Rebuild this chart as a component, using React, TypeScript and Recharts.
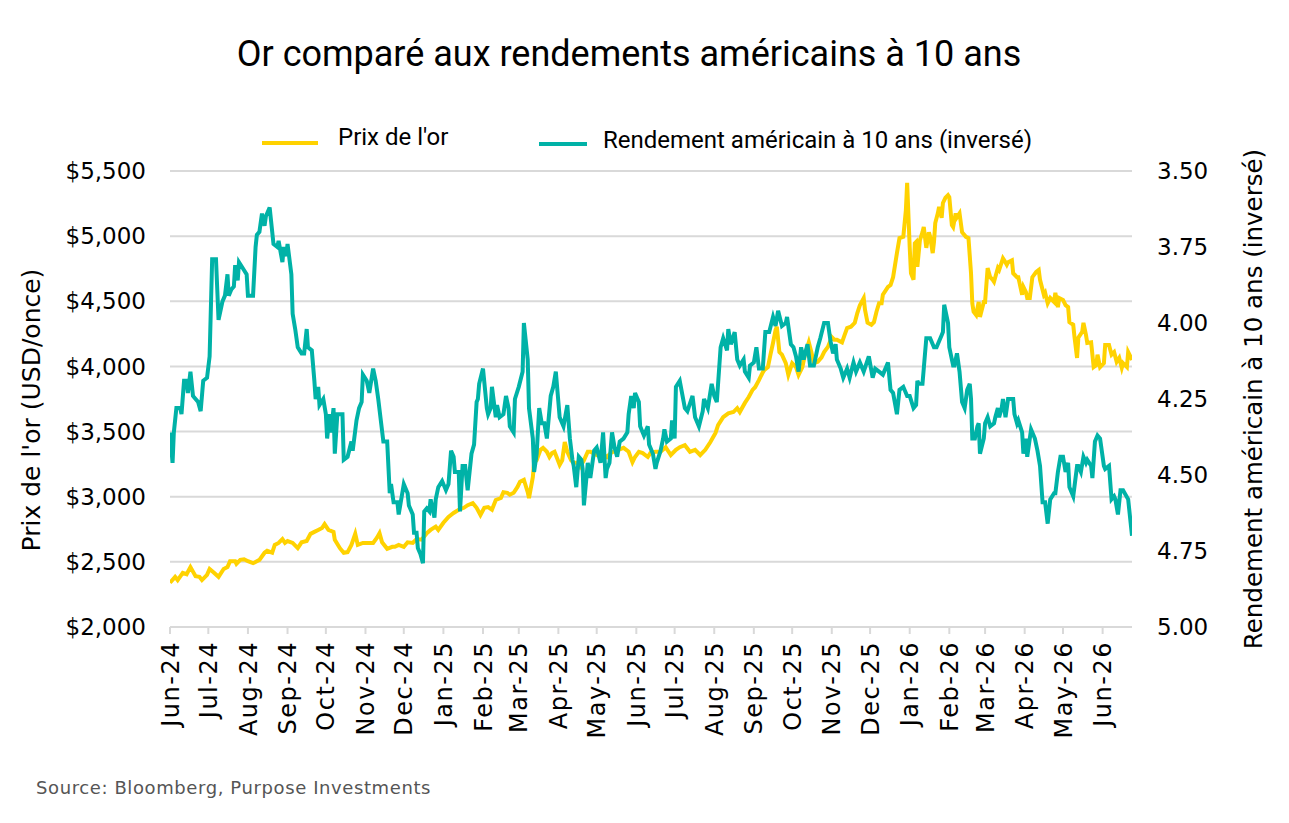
import React from 'react';
import { LineChart, Line, XAxis, YAxis, CartesianGrid } from 'recharts';

// Day offsets are counted from 1 June 2024.
const monthTicks = [0, 30, 61, 92, 122, 153, 183, 214, 245, 273, 304, 334, 365, 395, 426, 457, 487, 518, 548, 579, 610, 638, 669, 699, 730];
const monthLabels = ['Jun-24', 'Jul-24', 'Aug-24', 'Sep-24', 'Oct-24', 'Nov-24', 'Dec-24', 'Jan-25', 'Feb-25', 'Mar-25', 'Apr-25', 'May-25', 'Jun-25', 'Jul-25', 'Aug-25', 'Sep-25', 'Oct-25', 'Nov-25', 'Dec-25', 'Jan-26', 'Feb-26', 'Mar-26', 'Apr-26', 'May-26', 'Jun-26'];
const goldTicks = [2000, 2500, 3000, 3500, 4000, 4500, 5000, 5500];
const yieldTicks = [3.5, 3.75, 4.0, 4.25, 4.5, 4.75, 5.0];

// [day, gold price USD/oz]
const goldSeries: [number, number][] = [
  [0,2340],[4,2385],[6,2360],[10,2415],[13,2405],[16,2460],[20,2390],[23,2385],[25,2360],[29,2400],[31,2445],[34,2420],[38,2385],[42,2445],[45,2460],[47,2505],[51,2505],[52,2485],[55,2515],[58,2520],[61,2505],[65,2490],[68,2505],[70,2515],[74,2570],[76,2585],[80,2570],[82,2630],[85,2645],[88,2675],[90,2645],[92,2660],[96,2645],[100,2605],[103,2650],[107,2660],[110,2715],[113,2730],[116,2745],[119,2760],[121,2790],[124,2745],[128,2730],[129,2670],[133,2605],[136,2570],[139,2575],[142,2630],[145,2715],[147,2630],[151,2645],[155,2645],[159,2645],[162,2685],[164,2720],[166,2650],[170,2600],[174,2615],[176,2615],[179,2630],[183,2615],[186,2650],[190,2645],[193,2675],[197,2670],[201,2720],[204,2745],[208,2770],[210,2745],[214,2800],[218,2845],[222,2875],[226,2900],[230,2915],[233,2935],[237,2950],[240,2915],[243,2860],[246,2915],[249,2920],[252,2900],[255,2975],[259,2990],[261,3035],[264,3030],[266,3015],[269,3030],[272,3075],[274,3115],[277,3130],[280,3035],[281,2990],[284,3150],[285,3260],[287,3280],[290,3360],[292,3375],[295,3345],[297,3305],[299,3335],[301,3345],[303,3295],[305,3245],[307,3280],[309,3420],[311,3345],[314,3280],[316,3260],[319,3260],[321,3230],[324,3280],[327,3345],[329,3345],[331,3335],[334,3320],[338,3335],[342,3305],[345,3335],[347,3345],[351,3360],[355,3375],[359,3345],[362,3265],[364,3305],[367,3345],[370,3335],[374,3305],[376,3335],[380,3345],[384,3345],[388,3380],[392,3320],[396,3360],[399,3380],[403,3395],[407,3345],[411,3360],[415,3320],[419,3360],[423,3420],[427,3490],[429,3550],[433,3610],[437,3640],[441,3650],[444,3680],[446,3650],[450,3720],[453,3765],[456,3820],[458,3840],[461,3895],[464,3955],[465,3970],[468,3995],[470,4090],[472,4180],[474,4280],[475,4305],[477,4110],[479,4090],[482,4025],[484,3935],[487,4025],[490,3995],[492,3935],[495,3995],[497,4090],[500,4185],[502,4110],[504,4025],[507,4035],[510,4070],[512,4110],[515,4150],[518,4225],[520,4205],[522,4205],[526,4185],[528,4240],[530,4295],[533,4305],[536,4335],[538,4410],[540,4470],[543,4525],[544,4435],[546,4335],[549,4320],[551,4340],[553,4420],[555,4485],[557,4485],[558,4550],[562,4610],[564,4625],[566,4685],[569,4870],[571,4985],[574,4995],[576,5200],[577,5410],[579,4915],[580,4715],[582,4665],[583,4945],[584,4955],[585,4765],[587,4970],[589,5030],[590,5070],[592,4910],[594,5030],[595,4995],[597,4870],[598,4955],[599,5100],[601,5175],[602,5225],[604,5140],[605,5255],[607,5295],[609,5315],[610,5300],[612,5085],[613,5070],[615,5175],[616,5145],[618,5175],[620,5030],[623,4995],[625,4985],[627,4715],[628,4485],[629,4420],[631,4395],[633,4495],[634,4380],[637,4495],[638,4495],[640,4755],[642,4685],[644,4665],[645,4650],[648,4755],[649,4740],[652,4830],[653,4815],[655,4780],[656,4800],[659,4815],[660,4715],[663,4685],[664,4685],[667,4550],[668,4610],[670,4570],[671,4525],[673,4525],[675,4685],[678,4725],[680,4740],[681,4665],[684,4550],[685,4565],[687,4485],[689,4525],[692,4495],[693,4565],[695,4455],[696,4525],[699,4510],[701,4470],[703,4455],[704,4340],[707,4320],[708,4225],[710,4065],[711,4220],[714,4265],[715,4335],[717,4240],[718,4180],[721,4185],[723,3995],[725,4010],[726,4090],[728,3995],[731,4025],[732,4165],[735,4165],[737,4090],[739,4110],[741,4035],[743,4065],[745,3990],[746,4025],[749,3995],[750,4110],[753,4050]
];

// [day, US 10-year yield %]
const yieldSeries: [number, number][] = [
  [0,4.36],[2,4.46],[3,4.36],[5,4.28],[8,4.28],[9,4.30],[11,4.19],[13,4.19],[14,4.23],[16,4.16],[18,4.24],[22,4.26],[24,4.29],[26,4.19],[29,4.18],[31,4.11],[33,3.79],[36,3.79],[38,3.99],[41,3.93],[43,3.91],[45,3.84],[46,3.91],[48,3.89],[50,3.88],[51,3.81],[53,3.86],[54,3.80],[57,3.82],[60,3.84],[61,3.91],[65,3.91],[67,3.75],[68,3.71],[70,3.70],[72,3.64],[74,3.68],[75,3.65],[78,3.62],[80,3.70],[81,3.74],[84,3.75],[85,3.73],[88,3.80],[89,3.75],[91,3.78],[92,3.74],[95,3.84],[96,3.97],[98,4.02],[100,4.08],[103,4.10],[105,4.10],[107,4.02],[108,4.08],[111,4.09],[113,4.19],[114,4.25],[116,4.21],[117,4.27],[120,4.25],[122,4.30],[123,4.38],[125,4.30],[126,4.36],[128,4.28],[129,4.43],[131,4.30],[135,4.30],[136,4.45],[139,4.44],[142,4.39],[143,4.42],[146,4.32],[148,4.28],[150,4.26],[151,4.17],[154,4.19],[156,4.23],[159,4.15],[161,4.19],[163,4.25],[167,4.39],[170,4.39],[172,4.56],[173,4.53],[175,4.59],[178,4.59],[179,4.63],[183,4.53],[186,4.56],[187,4.60],[190,4.63],[191,4.69],[193,4.69],[194,4.74],[196,4.76],[198,4.79],[199,4.62],[201,4.61],[203,4.62],[204,4.58],[207,4.64],[208,4.58],[210,4.54],[213,4.52],[216,4.55],[218,4.53],[220,4.42],[222,4.44],[223,4.49],[226,4.49],[227,4.62],[229,4.47],[231,4.47],[233,4.55],[234,4.51],[236,4.43],[238,4.40],[240,4.26],[241,4.25],[242,4.20],[245,4.15],[248,4.28],[249,4.30],[251,4.28],[252,4.21],[255,4.31],[256,4.27],[258,4.31],[261,4.30],[263,4.24],[265,4.28],[266,4.34],[269,4.36],[270,4.25],[273,4.21],[276,4.16],[277,4.00],[280,4.12],[281,4.28],[284,4.38],[285,4.49],[287,4.43],[289,4.28],[291,4.33],[293,4.33],[295,4.38],[298,4.24],[300,4.21],[302,4.16],[305,4.31],[308,4.34],[311,4.27],[313,4.38],[315,4.45],[316,4.47],[318,4.54],[320,4.44],[322,4.45],[323,4.48],[324,4.60],[327,4.46],[329,4.51],[331,4.45],[332,4.42],[334,4.41],[337,4.46],[339,4.36],[341,4.51],[342,4.48],[344,4.46],[346,4.36],[348,4.41],[350,4.44],[352,4.39],[355,4.38],[358,4.36],[359,4.30],[361,4.24],[363,4.28],[364,4.23],[367,4.26],[368,4.34],[370,4.36],[371,4.37],[374,4.34],[375,4.40],[378,4.43],[380,4.48],[381,4.46],[384,4.42],[386,4.38],[387,4.35],[389,4.39],[392,4.38],[393,4.32],[395,4.38],[396,4.21],[399,4.19],[403,4.28],[405,4.29],[409,4.24],[411,4.31],[414,4.34],[417,4.29],[418,4.25],[421,4.28],[424,4.20],[426,4.24],[428,4.26],[431,4.08],[433,4.05],[436,4.09],[437,4.02],[439,4.07],[442,4.03],[444,4.12],[446,4.14],[449,4.12],[450,4.16],[453,4.18],[454,4.14],[457,4.13],[459,4.08],[461,4.15],[464,4.15],[466,4.03],[469,4.03],[472,3.98],[474,4.01],[476,3.96],[479,4.01],[482,4.00],[483,3.98],[486,4.07],[488,4.08],[490,4.11],[492,4.16],[494,4.08],[496,4.12],[499,4.07],[501,4.14],[504,4.14],[507,4.08],[509,4.05],[512,4.00],[515,4.00],[517,4.06],[519,4.10],[521,4.07],[522,4.12],[525,4.15],[527,4.18],[530,4.15],[532,4.18],[535,4.13],[537,4.16],[540,4.13],[543,4.16],[547,4.11],[550,4.18],[552,4.15],[555,4.16],[558,4.17],[559,4.16],[562,4.13],[564,4.22],[566,4.23],[569,4.30],[571,4.22],[574,4.21],[577,4.24],[579,4.24],[582,4.28],[584,4.27],[585,4.19],[586,4.20],[589,4.20],[590,4.15],[592,4.05],[595,4.05],[598,4.08],[600,4.08],[602,4.06],[604,4.04],[605,4.03],[606,3.94],[609,4.00],[610,4.08],[613,4.14],[614,4.14],[616,4.10],[618,4.16],[620,4.26],[622,4.28],[624,4.22],[626,4.20],[627,4.25],[628,4.38],[630,4.38],[632,4.34],[633,4.33],[634,4.43],[637,4.38],[638,4.33],[640,4.31],[642,4.34],[645,4.33],[646,4.31],[648,4.28],[649,4.31],[651,4.28],[652,4.25],[654,4.31],[656,4.25],[660,4.25],[661,4.30],[663,4.33],[664,4.32],[667,4.36],[668,4.43],[670,4.38],[671,4.44],[674,4.35],[677,4.38],[679,4.42],[681,4.47],[683,4.59],[685,4.59],[687,4.66],[689,4.58],[692,4.56],[693,4.56],[695,4.49],[697,4.44],[699,4.44],[701,4.49],[703,4.46],[704,4.54],[707,4.57],[710,4.47],[711,4.47],[713,4.49],[715,4.44],[717,4.46],[718,4.45],[721,4.47],[722,4.51],[724,4.39],[726,4.37],[728,4.38],[731,4.47],[732,4.48],[735,4.47],[737,4.58],[739,4.57],[740,4.58],[742,4.63],[744,4.55],[746,4.55],[750,4.58],[753,4.70]
];

const GOLD = '#FFD200';
const TEAL = '#00B2A7';
const GRID = '#d9d9d9';
const TICK_FONT = '"DejaVu Sans", sans-serif';
const HEAD_FONT = 'Roboto, sans-serif';

const goldData = goldSeries.map(([d, v]) => ({ d, v }));
const yieldData = yieldSeries.map(([d, v]) => ({ d, v }));

const MonthTick = (props: any) => {
  const { x, y, payload } = props;
  const idx = monthTicks.indexOf(payload.value);
  return (
    <text
      x={x}
      y={y}
      transform={`rotate(-90, ${x}, ${y})`}
      textAnchor="end"
      dy="0.36em"
      fontSize={24}
      letterSpacing={1.5}
      fontFamily={TICK_FONT}
      fill="#000"
    >
      {idx >= 0 ? monthLabels[idx] : ''}
    </text>
  );
};

export default function App() {
  return (
    <div style={{ position: 'fixed', left: 0, top: 0, width: 1289, height: 823, background: '#fff', overflow: 'hidden' }}>
      <div style={{ position: 'absolute', left: 0, width: 1258, top: 33, textAlign: 'center', fontFamily: HEAD_FONT, fontSize: 36, color: '#000', whiteSpace: 'nowrap' }}>
        Or comparé aux rendements américains à 10 ans
      </div>

      {/* legend */}
      <div style={{ position: 'absolute', left: 262, top: 141, width: 56, height: 4, background: GOLD }} />
      <div style={{ position: 'absolute', left: 338, top: 123, fontFamily: HEAD_FONT, fontSize: 24, color: '#000', whiteSpace: 'nowrap' }}>Prix de l'or</div>
      <div style={{ position: 'absolute', left: 539, top: 142, width: 48, height: 4, background: TEAL }} />
      <div style={{ position: 'absolute', left: 603, top: 126, fontFamily: HEAD_FONT, fontSize: 24, color: '#000', whiteSpace: 'nowrap' }}>Rendement américain à 10 ans (inversé)</div>

      {/* axis titles */}
      <div style={{ position: 'absolute', left: 31, top: 410, transform: 'translate(-50%, -50%) rotate(-90deg)', fontFamily: TICK_FONT, fontSize: 25, whiteSpace: 'nowrap', color: '#000' }}>
        Prix de l'or (USD/once)
      </div>
      <div style={{ position: 'absolute', left: 1253, top: 399, transform: 'translate(-50%, -50%) rotate(-90deg)', fontFamily: TICK_FONT, fontSize: 24.5, whiteSpace: 'nowrap', color: '#000' }}>
        Rendement américain à 10 ans (inversé)
      </div>

      <div style={{ position: 'absolute', left: 36, top: 777, fontFamily: TICK_FONT, fontSize: 18, letterSpacing: 0.6, color: '#555', whiteSpace: 'nowrap' }}>
        Source: Bloomberg, Purpose Investments
      </div>

      <div style={{ position: 'absolute', left: 0, top: 0 }}>
        <LineChart width={1289} height={823} margin={{ top: 171, right: 57, bottom: 96, left: 60 }}>
          <CartesianGrid yAxisId="left" vertical={false} stroke={GRID} strokeWidth={2} />
          <XAxis
            dataKey="d"
            type="number"
            domain={[0, 753]}
            ticks={monthTicks}
            allowDataOverflow
            height={100}
            interval={0}
            stroke={GRID}
            strokeWidth={2}
            tickSize={7}
            tickMargin={7}
            tick={<MonthTick />}
          />
          <YAxis
            yAxisId="left"
            orientation="left"
            domain={[2000, 5500]}
            ticks={goldTicks}
            width={110}
            axisLine={false}
            tickLine={false}
            tickSize={0}
            tickMargin={24}
            tick={{ fontSize: 23, fontFamily: TICK_FONT, fill: '#000' }}
            tickFormatter={(v: number) => '$' + v.toLocaleString('en-US')}
          />
          <YAxis
            yAxisId="right"
            orientation="right"
            domain={[3.5, 5.0]}
            reversed
            ticks={yieldTicks}
            width={100}
            axisLine={false}
            tickLine={false}
            tickSize={0}
            tickMargin={25}
            tick={{ fontSize: 23, fontFamily: TICK_FONT, fill: '#000' }}
            tickFormatter={(v: number) => v.toFixed(2)}
          />
          <Line
            yAxisId="left"
            data={goldData}
            dataKey="v"
            type="linear"
            stroke={GOLD}
            strokeWidth={4}
            dot={false}
            isAnimationActive={false}
          />
          <Line
            yAxisId="right"
            data={yieldData}
            dataKey="v"
            type="linear"
            stroke={TEAL}
            strokeWidth={4}
            dot={false}
            isAnimationActive={false}
          />
        </LineChart>
      </div>
    </div>
  );
}
